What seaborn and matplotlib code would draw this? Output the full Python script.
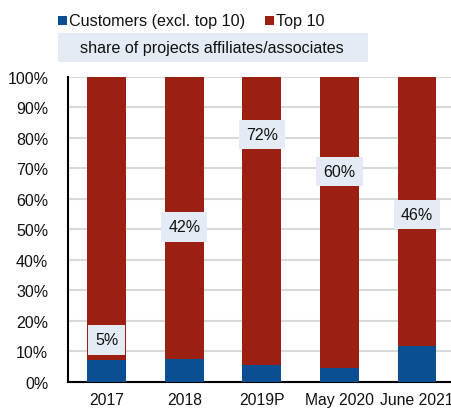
import matplotlib
matplotlib.use("Agg")
import matplotlib.pyplot as plt
import seaborn as sns
import pandas as pd
from matplotlib.patches import Rectangle

categories = ["2017", "2018", "2019P", "May 2020", "June 2021"]
customers = [7.2, 7.5, 5.7, 4.5, 11.9]
top10 = [92.8, 92.5, 94.3, 95.5, 88.1]
affiliate_share = ["5%", "42%", "72%", "60%", "46%"]
label_y = [13.8, 50.8, 81.2, 69.0, 54.8]
yticks = [0, 10, 20, 30, 40, 50, 60, 70, 80, 90, 100]

BLUE = "#0a4f92"
RED = "#9c2012"
BOX = "#e5ebf4"

sns.set_theme(style="white")
plt.rcParams["font.family"] = ["Liberation Sans", "DejaVu Sans"]

df = pd.DataFrame({"cat": categories, "customers": customers, "top10": top10})
df["total"] = df["customers"] + df["top10"]

fig = plt.figure(figsize=(4.52, 4.10), dpi=100)
ax = fig.add_axes([0.150, 0.066, 0.850, 0.744])

sns.barplot(data=df, x="cat", y="total", color=RED, width=0.5, ax=ax,
            saturation=1, linewidth=0, zorder=2)
sns.barplot(data=df, x="cat", y="customers", color=BLUE, width=0.5, ax=ax,
            saturation=1, linewidth=0, zorder=3)

for i, (lab, yv) in enumerate(zip(affiliate_share, label_y)):
    ax.text(i, yv, lab, ha="center", va="center", fontsize=11.5, color="#111111",
            zorder=5,
            bbox=dict(boxstyle="square,pad=0.45", facecolor=BOX, edgecolor="none"))

ax.set_ylim(0, 100)
ax.set_xlim(-0.5, 4.45)
ax.set_yticks(yticks)
ax.set_yticklabels([f"{v}%" for v in yticks], fontsize=11.5, color="#111111")
ax.tick_params(axis="x", labelsize=11.3, labelcolor="#111111", length=0, pad=7)
ax.tick_params(axis="y", length=0, pad=14)
ax.set_xlabel("")
ax.set_ylabel("")
ax.yaxis.grid(True, color="#d9d9d9", linewidth=1.5, zorder=0)
ax.set_axisbelow(True)
for s in ["top", "right"]:
    ax.spines[s].set_visible(False)
for s in ["left", "bottom"]:
    ax.spines[s].set_color("black")
    ax.spines[s].set_linewidth(1.5)

W, H = 452, 410
def fx(px):
    return px / W
def fy(py):
    return 1 - py / H

# legend
fig.patches.append(Rectangle((fx(58), fy(26)), 9 / W, 9 / H, transform=fig.transFigure,
                             facecolor=BLUE, edgecolor="none"))
fig.text(fx(69), fy(21.5), "Customers (excl. top 10)", fontsize=11.6, va="center",
         ha="left", color="#111111")
fig.patches.append(Rectangle((fx(265), fy(26)), 9 / W, 9 / H, transform=fig.transFigure,
                             facecolor=RED, edgecolor="none"))
fig.text(fx(276), fy(21.5), "Top 10", fontsize=11.6, va="center", ha="left",
         color="#111111")
fig.patches.append(Rectangle((fx(58), fy(63)), 310 / W, 29 / H, transform=fig.transFigure,
                             facecolor=BOX, edgecolor="none"))
fig.text(fx(212), fy(48), "share of projects affiliates/associates", fontsize=11.6,
         va="center", ha="center", color="#111111")

fig.savefig("out.png", dpi=100)
